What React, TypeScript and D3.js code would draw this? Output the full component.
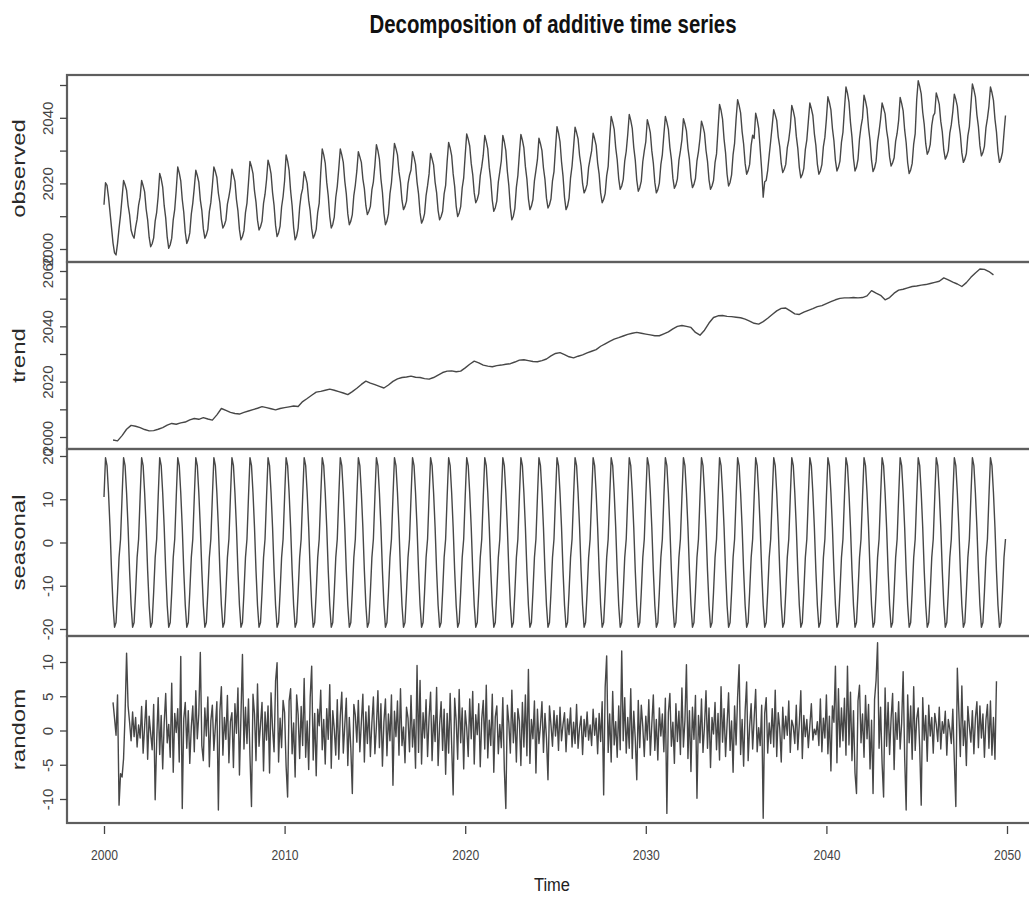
import React, { useEffect, useRef } from 'react';
import * as d3 from 'd3';

// R-style decompose() plot: four stacked panels sharing one time axis
const WIDTH = 1029;
const HEIGHT = 897;
const FONT = '"Liberation Sans", Arial, Helvetica, sans-serif';
const LINE_COLOR = '#474747';

const TITLE = 'Decomposition of additive time series';
const X_TICKS = [2000, 2010, 2020, 2030, 2040, 2050];

// observed, monthly Jan 2000 .. Dec 2049 (one row per year)
const observed = [
  2013.5, 2020.2, 2019.4, 2015.8, 2011.2, 2006.5, 2001.8, 1998.8, 1998.2, 2001.7, 2006.3, 2010.4,
  2015.6, 2020.9, 2019.6, 2017.9, 2013.4, 2010.5, 2005.8, 2004.2, 2003.3, 2006.6, 2009.1, 2013.4,
  2015.8, 2020.9, 2019.3, 2017.4, 2012.2, 2008.9, 2003.6, 2000.7, 2001.6, 2003.4, 2008.5, 2011.2,
  2016.1, 2023.0, 2021.4, 2018.9, 2013.2, 2009.5, 2003.6, 2000.2, 2001.3, 2003.3, 2008.9, 2012.1,
  2018.0, 2025.0, 2023.2, 2020.8, 2015.1, 2011.2, 2005.1, 2001.7, 2002.8, 2004.9, 2010.6, 2014.0,
  2018.7, 2024.0, 2022.4, 2020.4, 2015.0, 2011.8, 2006.2, 2003.3, 2004.3, 2006.0, 2011.4, 2014.2,
  2019.3, 2025.0, 2023.6, 2021.8, 2017.0, 2014.1, 2009.0, 2006.4, 2007.3, 2008.8, 2013.7, 2016.0,
  2018.8, 2024.3, 2022.6, 2020.6, 2015.1, 2011.6, 2005.9, 2002.8, 2003.8, 2005.6, 2011.1, 2014.0,
  2020.2, 2026.7, 2025.1, 2023.0, 2017.7, 2014.3, 2008.8, 2005.8, 2006.8, 2008.5, 2013.9, 2016.7,
  2021.1, 2027.1, 2025.4, 2022.9, 2017.2, 2013.3, 2007.2, 2003.8, 2004.9, 2007.0, 2012.8, 2016.0,
  2020.8, 2028.7, 2026.8, 2024.0, 2017.7, 2013.2, 2006.6, 2002.8, 2003.9, 2006.4, 2012.7, 2016.5,
  2018.4, 2023.6, 2022.0, 2020.0, 2014.9, 2011.6, 2006.2, 2003.3, 2004.3, 2006.0, 2011.2, 2014.0,
  2023.2, 2030.5, 2028.7, 2026.2, 2020.3, 2016.2, 2009.9, 2006.4, 2007.5, 2009.7, 2015.7, 2019.1,
  2024.5, 2030.5, 2028.7, 2026.4, 2020.7, 2016.8, 2010.7, 2007.4, 2008.5, 2010.5, 2016.3, 2019.5,
  2023.8, 2029.7, 2028.1, 2026.4, 2021.4, 2018.4, 2013.2, 2010.5, 2011.5, 2013.0, 2018.0, 2020.5,
  2025.5, 2031.8, 2030.0, 2027.4, 2021.4, 2017.3, 2010.9, 2007.4, 2008.5, 2010.7, 2016.8, 2020.2,
  2026.0, 2032.2, 2030.6, 2028.7, 2023.5, 2020.3, 2014.8, 2012.0, 2013.0, 2014.6, 2019.9, 2022.5,
  2024.1, 2029.7, 2028.0, 2025.8, 2020.4, 2016.8, 2011.0, 2007.9, 2008.9, 2010.8, 2016.3, 2019.3,
  2022.9, 2029.1, 2027.5, 2025.6, 2020.4, 2017.2, 2011.7, 2008.9, 2009.9, 2011.5, 2016.8, 2019.4,
  2026.7, 2032.5, 2030.8, 2028.5, 2022.9, 2019.1, 2013.1, 2009.9, 2011.0, 2012.9, 2018.6, 2021.7,
  2028.6, 2035.1, 2033.5, 2031.4, 2026.1, 2022.7, 2017.1, 2014.1, 2015.1, 2016.9, 2022.3, 2025.1,
  2028.6, 2034.6, 2032.8, 2030.5, 2024.8, 2020.9, 2014.8, 2011.5, 2012.6, 2014.6, 2020.4, 2023.6,
  2026.9, 2034.6, 2032.7, 2030.0, 2023.7, 2019.3, 2012.7, 2008.9, 2010.0, 2012.4, 2018.8, 2022.4,
  2029.0, 2034.9, 2033.2, 2030.8, 2025.1, 2021.3, 2015.3, 2012.0, 2013.1, 2015.1, 2020.8, 2024.0,
  2027.3, 2033.8, 2032.1, 2030.0, 2024.7, 2021.2, 2015.5, 2012.5, 2013.5, 2015.3, 2020.8, 2023.6,
  2030.7, 2037.3, 2035.4, 2032.7, 2026.6, 2022.2, 2015.7, 2012.0, 2013.1, 2015.4, 2021.7, 2025.3,
  2031.0, 2037.1, 2035.5, 2033.6, 2028.5, 2025.3, 2019.9, 2017.1, 2018.1, 2019.7, 2024.9, 2027.5,
  2029.9, 2035.3, 2033.6, 2031.6, 2026.2, 2022.8, 2017.1, 2014.1, 2015.1, 2016.9, 2022.3, 2025.2,
  2033.7, 2040.4, 2038.7, 2036.5, 2030.9, 2027.2, 2021.4, 2018.2, 2019.2, 2021.2, 2026.8, 2029.8,
  2034.9, 2041.0, 2039.2, 2036.8, 2031.0, 2027.1, 2021.0, 2017.6, 2018.7, 2020.7, 2026.6, 2029.9,
  2032.7, 2039.4, 2037.7, 2035.5, 2029.9, 2026.2, 2020.3, 2017.1, 2018.1, 2020.1, 2025.7, 2028.8,
  2034.8, 2040.4, 2038.7, 2036.5, 2031.0, 2027.4, 2021.6, 2018.5, 2019.5, 2021.4, 2027.0, 2029.9,
  2033.3, 2039.7, 2038.1, 2036.0, 2030.7, 2027.3, 2021.7, 2018.7, 2019.7, 2021.5, 2026.9, 2029.7,
  2033.7, 2039.0, 2037.4, 2035.3, 2030.1, 2026.7, 2021.1, 2018.2, 2019.2, 2020.9, 2026.3, 2029.0,
  2036.6, 2044.1, 2042.3, 2039.6, 2033.5, 2029.3, 2022.8, 2019.2, 2020.3, 2022.6, 2028.8, 2032.3,
  2039.6, 2045.5, 2043.8, 2041.5, 2035.8, 2032.0, 2026.1, 2022.8, 2023.9, 2025.8, 2031.6, 2034.7,
  2033.7, 2041.4, 2039.5, 2036.8, 2030.6, 2024.1, 2015.8, 2020.5, 2020.9, 2024.0, 2028.6, 2033.0,
  2037.6, 2042.5, 2040.9, 2039.2, 2034.2, 2031.2, 2026.0, 2023.3, 2024.3, 2025.8, 2030.8, 2033.3,
  2037.1, 2043.8, 2042.1, 2039.9, 2034.4, 2030.7, 2024.9, 2021.7, 2022.7, 2024.6, 2030.3, 2033.3,
  2038.9, 2044.5, 2042.8, 2040.7, 2035.2, 2031.6, 2025.9, 2022.8, 2023.8, 2025.7, 2031.2, 2034.1,
  2039.6, 2046.4, 2044.7, 2042.4, 2036.8, 2033.0, 2027.0, 2023.8, 2024.9, 2026.8, 2032.5, 2035.6,
  2042.7, 2049.4, 2047.5, 2044.8, 2038.6, 2034.1, 2027.6, 2023.8, 2024.9, 2027.3, 2033.6, 2037.3,
  2039.9, 2046.9, 2045.1, 2042.7, 2037.0, 2033.1, 2027.0, 2023.6, 2024.7, 2026.7, 2032.6, 2035.8,
  2039.6, 2044.5, 2042.9, 2041.2, 2036.2, 2033.2, 2028.0, 2025.3, 2026.3, 2027.8, 2032.8, 2035.3,
  2039.2, 2046.2, 2044.4, 2042.1, 2036.3, 2032.4, 2026.3, 2023.0, 2024.1, 2026.1, 2032.0, 2035.2,
  2045.5, 2051.3, 2049.6, 2047.3, 2041.7, 2038.0, 2032.1, 2028.9, 2029.9, 2031.9, 2037.6, 2040.6,
  2041.4, 2047.6, 2046.0, 2044.1, 2038.9, 2035.7, 2030.2, 2027.4, 2028.4, 2030.0, 2035.3, 2037.9,
  2041.9, 2047.2, 2045.6, 2043.5, 2038.3, 2034.9, 2029.3, 2026.4, 2027.4, 2029.1, 2034.5, 2037.2,
  2043.7, 2050.3, 2048.6, 2046.4, 2040.9, 2037.3, 2031.5, 2028.4, 2029.4, 2031.3, 2036.9, 2039.8,
  2043.5, 2049.4, 2047.7, 2045.3, 2039.6, 2035.7, 2029.7, 2026.4, 2027.5, 2029.5, 2035.3, 2040.7,
];

// trend, quarterly from mid 2000 to spring 2049
const trend = [
  1998.9, 1998.6,
  2000.5, 2002.8, 2004.2, 2003.9,
  2003.4, 2002.7, 2002.2, 2002.3,
  2002.8, 2003.4, 2004.3, 2004.9,
  2004.6, 2005.1, 2005.4, 2006.2,
  2006.7, 2006.4, 2007.0, 2006.5,
  2006.1, 2008.0, 2010.3, 2009.6,
  2008.9, 2008.5, 2008.3, 2008.9,
  2009.4, 2009.9, 2010.4, 2011.0,
  2010.6, 2010.2, 2009.8, 2010.3,
  2010.6, 2010.9, 2011.2, 2011.0,
  2012.8, 2013.9, 2015.1, 2016.2,
  2016.5, 2016.9, 2017.3, 2016.9,
  2016.4, 2015.9, 2015.3, 2016.4,
  2017.6, 2019.0, 2020.2, 2019.5,
  2018.9, 2018.3, 2017.7, 2018.8,
  2020.1, 2021.0, 2021.5, 2021.7,
  2022.0, 2021.6, 2021.5, 2021.1,
  2020.9, 2021.5, 2022.4, 2023.3,
  2023.8, 2023.9, 2023.6, 2023.8,
  2025.0, 2026.3, 2027.4, 2026.8,
  2026.0, 2025.6, 2025.4, 2025.8,
  2026.0, 2026.3, 2026.5, 2027.1,
  2027.8, 2027.9, 2027.6, 2027.3,
  2027.2, 2027.6, 2028.2, 2029.3,
  2030.2, 2030.5, 2029.8, 2029.0,
  2028.6, 2029.2, 2029.7, 2030.4,
  2031.0, 2031.6, 2032.8, 2033.7,
  2034.6, 2035.4, 2035.9, 2036.5,
  2037.1, 2037.5, 2037.8, 2037.5,
  2037.2, 2036.9, 2036.6, 2036.6,
  2037.3, 2038.0, 2039.1, 2040.0,
  2040.3, 2040.0, 2039.6, 2037.8,
  2036.8, 2038.6, 2041.2, 2043.2,
  2043.8, 2043.9, 2043.6, 2043.5,
  2043.3, 2043.1, 2042.6, 2041.9,
  2041.1, 2040.8, 2041.7, 2042.9,
  2044.3, 2045.6, 2046.5, 2046.6,
  2045.6, 2044.5, 2044.3, 2045.1,
  2045.8, 2046.4, 2047.1, 2047.5,
  2048.2, 2048.9, 2049.6, 2050.1,
  2050.3, 2050.3, 2050.4, 2050.3,
  2050.4, 2051.0, 2052.9, 2052.0,
  2051.2, 2049.6, 2050.4, 2052.0,
  2053.1, 2053.4, 2053.9, 2054.4,
  2054.6, 2054.9, 2055.1, 2055.5,
  2055.9, 2056.3, 2057.5, 2056.8,
  2056.0, 2055.3, 2054.4, 2055.8,
  2057.7, 2059.3, 2060.7, 2060.6,
  2059.8, 2058.6,
];

// one seasonal cycle Jan..Dec, the same figures every year
const seasonalCycle = [10.5, 19.6, 17.8, 11.5, 3.5, -6.5, -14.5, -19.6, -18.5, -11.5, -3.5, 0.8];

// remainder, monthly Jul 2000 .. Jun 2049
const random = [
  4.1, 1.8, -0.7, 5.2, -10.9, -6.3,
  -6.8, -4.1, 2.3, 11.3, 3.6, 1.2, -1.5, 2.7, -0.9, 1.9, -2.4, 0.8,
  -1.1, 3.5, -3.3, 0.6, 4.4, -4.2, 2.1, -0.4, -2.8, 3.8, -10.1, -1.6,
  4.8, -3.5, 2.2, -5.6, 1.1, 5.4, -1.8, 0.9, -3.9, 6.9, -6.1, 2.5,
  -0.3, 3.2, -4.6, 10.8, -11.4, 1.7, 4.1, -2.6, 2.9, -4.8, 0.5, 3.6,
  -3.1, 5.8, -1.2, 2.4, 11.4, -2.2, -4.4, 3.3, -0.8, 4.9, -5.3, 1.4,
  3.7, -2.9, 0.6, 4.2, -11.6, 2.8, 6.4, -3.6, 1.9, -1.3, 5.1, -4.7,
  1.3, 2.6, -5.4, 3.9, -0.4, 6.2, -6.5, 2.1, 11.1, -2.7, 3.4, -1.9,
  4.6, -3.8, -11.1, 5.3, 2.4, -4.4, 6.8, -2.3, 0.9, 4.1, -5.9, 2.7,
  -1.4, 3.6, -6.2, 5.5, 0.3, -3.1, 7.2, 9.9, -4.6, 1.8, -2.5, 4.4,
  2.6, -5.2, -9.7, 4.3, 6.1, -3.4, 1.1, -6.8, 5.2, 2.3, -4.1, 3.5,
  -2.2, 7.6, -3.9, 1.4, -5.7, 4.8, 9.4, -4.3, 2.5, -6.6, 3.1, 0.7,
  5.9, -2.8, 1.6, -4.9, 3.2, -1.3, 6.7, -5.5, 2.9, 0.2, -3.6, 4.5,
  -4.2, 2.1, 5.6, -3.3, 0.8, 4.7, -5.1, 1.9, -2.6, -9.2, 3.8, 2.2,
  -1.7, 4.4, -3.1, 1.2, 5.3, -4.6, 2.7, -1.9, 3.6, -3.8, 1.1, 4.9,
  -3.4, 0.6, 5.8, -2.5, 3.9, -5.2, 1.3, 4.6, -3.7, 2.4, -1.5, 5.2,
  -8.0, 2.8, -0.9, 4.3, -3.6, 6.1, -2.2, 0.5, -4.7, 3.4, 1.8, -3.1,
  5.1, -2.4, 1.6, -5.5, 9.5, -3.2, 7.3, -4.9, 2.6, -1.1, 4.5, -3.8,
  1.9, 5.6, -4.4, 2.2, -1.6, 6.3, -5.1, 0.8, 4.2, -2.9, 3.1, -6.4,
  2.5, -3.3, 5.4, -2.1, -9.4, 4.7, 1.4, -4.2, 6.0, -1.8, 3.3, -5.6,
  2.9, 0.4, -3.8, 4.6, -1.2, 5.7, -4.9, 2.3, -0.6, 3.9, -5.3, 1.7,
  4.4, -2.7, 6.6, -4.0, 1.5, -2.2, 5.3, -6.1, 2.0, 3.6, -3.4, 0.9,
  -2.5, 4.8, -5.7, -11.4, 3.7, 1.1, -3.3, 5.9, -1.8, 2.6, -4.6, 3.2,
  1.4, -5.1, 4.1, -2.4, 5.2, -3.7, 8.9, -4.8, 1.6, -1.2, 4.3, -6.2,
  3.1, -1.9, 0.7, 4.2, -3.2, 2.5, -1.1, -7.2, 3.6, 0.8, -2.3, 2.9,
  -0.8, 2.2, -2.9, 3.4, -1.5, 0.9, 2.6, -3.1, 1.7, -0.6, 3.3, -2.4,
  1.2, -1.9, 3.8, -2.6, 0.4, 2.1, -3.5, 1.6, -0.9, 2.7, -1.4, 0.8,
  -2.2, 3.1, -0.7, 1.8, -3.4, 2.5, -1.6, 4.2, -9.4, 6.3, 10.9, -3.2,
  2.4, -4.6, 5.7, -2.1, 1.3, -3.9, 3.6, -2.8, 11.6, -1.5, 4.8, -3.3,
  1.9, -2.6, 6.1, -4.1, 2.8, -1.2, -7.2, 4.4, -2.5, 3.7, 0.6, -3.8,
  2.1, -1.4, 4.5, -3.6, 0.9, 5.2, -2.9, 1.6, -4.3, 3.3, -0.8, 2.4,
  -3.1, 4.7, -12.1, 2.6, 5.4, -2.3, 1.2, -4.8, 3.9, -1.6, 2.8, -3.5,
  6.2, -2.4, 1.5, 9.6, -4.1, 2.9, -6.0, 3.4, -1.3, 5.1, -9.9, 2.2,
  -1.8, 4.6, -3.2, 0.7, 5.8, -2.6, 3.3, -5.4, 1.9, -0.5, 4.1, -2.8,
  2.5, -4.3, 6.4, -1.7, 3.2, -3.8, 0.9, 5.5, -2.9, 1.4, -6.1, 3.6,
  -2.1, 4.9, 9.6, -3.5, 1.6, -5.2, 2.8, 7.1, -4.4, 0.6, 3.9, -2.7,
  1.8, 6.0, -3.1, 0.4, -2.2, 3.7, -12.8, 2.5, 4.8, -3.3, 1.1, -1.9,
  3.2, -2.4, 5.9, -3.8, 2.6, 0.3, -4.6, 3.4, -1.2, 2.1, -0.7, 4.3,
  -3.2, 1.5, 0.6, -1.9, 3.7, -2.8, 1.0, 5.8, -4.1, 2.2, -0.9, 1.6,
  -2.5, 0.7, 3.9, -1.4, 0.2, -0.6, 1.3, -2.2, 4.6, -3.1, 1.8, -1.1,
  5.2, -3.4, 2.1, -5.9, 3.6, 1.2, 9.4, -4.7, 6.1, -2.4, 3.3, -1.5,
  4.7, -3.6, 9.4, -2.1, 5.6, -4.4, 2.9, -6.2, -9.2, 4.3, 6.6, -1.8,
  2.4, -3.9, 5.1, -1.2, 3.8, -5.6, 1.5, -9.2, 4.5, 7.3, 12.8, -2.6,
  3.4, -4.8, -9.7, 6.2, -2.3, 4.1, -3.5, 1.8, 5.4, -5.7, 2.6, -1.3,
  4.2, -2.7, 1.1, 8.6, -3.9, -11.6, 5.2, -1.8, 3.6, -4.2, 6.4, -2.9,
  1.7, 3.3, -2.6, -10.9, 4.8, -1.4, 2.2, -4.5, 3.7, -0.8, 1.9, -3.3,
  2.5, 0.9, -1.6, 3.4, -2.7, 1.3, -0.4, 2.8, -3.6, 1.6, 0.2, -1.9,
  3.1, -4.4, -11.1, 9.1, 2.7, -3.8, 6.5, -2.2, 1.4, -5.1, 3.5, 0.6,
  -1.7, 2.9, -3.4, 1.8, 4.2, -2.5, 3.6, -1.1, 2.4, -3.9, 1.5, 3.8,
  -2.6, 4.3, -3.6, 1.9, -4.2, 7.2,
];

type Pt = [number, number];

const observedPts: Pt[] = observed.map((v, i) => [2000 + i / 12, v]);
const trendPts: Pt[] = trend.map((v, i) => [2000.5 + i / 4, v]);
const seasonalPts: Pt[] = observed.map((_, i) => [2000 + i / 12, seasonalCycle[i % 12]]);
const randomPts: Pt[] = random.map((v, i) => [2000.5 + i / 12, v]);

const PANELS = [
  { name: 'observed', top: 75, data: observedPts, domain: [2000, 2050], range: [249, 85], every: 2 },
  { name: 'trend', top: 262, data: trendPts, domain: [2000, 2060], range: [437, 271], every: 2 },
  { name: 'seasonal', top: 449, data: seasonalPts, domain: [-20, 20], range: [629, 456], every: 1 },
  { name: 'random', top: 636, data: randomPts, domain: [-10, 10], range: [799, 662], every: 1 },
];
const PANEL_H = 187;
const LEFT = 67;

export default function App() {
  const svgRef = useRef<SVGSVGElement>(null);

  useEffect(() => {
    if (!svgRef.current) return;
    const svg = d3.select(svgRef.current);
    svg.selectAll('*').remove();

    const x = d3.scaleLinear().domain([2000, 2050]).range([104, 1007]);

    svg.append('text')
      .attr('x', 553).attr('y', 33)
      .attr('text-anchor', 'middle')
      .attr('textLength', 367).attr('lengthAdjust', 'spacingAndGlyphs')
      .style('font-family', FONT).style('font-size', '25px').style('font-weight', 'bold')
      .style('fill', '#111')
      .text(TITLE);

    PANELS.forEach(p => {
      const y = d3.scaleLinear().domain(p.domain).range(p.range);

      const line = d3.line<Pt>().x(d => x(d[0])).y(d => y(d[1]));
      svg.append('path')
        .datum(p.data)
        .attr('d', line)
        .attr('fill', 'none')
        .attr('stroke', LINE_COLOR)
        .attr('stroke-width', 1.4)
        .attr('stroke-linejoin', 'round');

      // box round the panel (right edge falls outside the picture)
      svg.append('rect')
        .attr('x', LEFT).attr('y', p.top)
        .attr('width', 976).attr('height', PANEL_H)
        .attr('fill', 'none')
        .attr('stroke', '#5e5e5e')
        .attr('stroke-width', 2.2);

      const ax = svg.append('g')
        .attr('transform', `translate(${LEFT},0)`)
        .call(d3.axisLeft(y)
          .ticks(p.every === 2 ? 5 : 4)
          .tickSize(7)
          .tickFormat((d, i) => (i % p.every === 0 ? String(d) : '')));
      ax.select('.domain').remove();
      ax.selectAll('line').attr('stroke', '#444').attr('stroke-width', 1.3);
      ax.selectAll('text')
        .attr('transform', 'rotate(-90)')
        .attr('x', 0).attr('y', -14).attr('dy', null)
        .attr('text-anchor', 'middle')
        .style('font-family', FONT).style('font-size', '15px')
        .attr('fill', '#444');

      svg.append('text')
        .attr('transform', `translate(25,${p.top + PANEL_H / 2}) scale(0.74,1) rotate(-90)`)
        .attr('text-anchor', 'middle')
        .style('font-family', FONT).style('font-size', '24px')
        .style('fill', '#2a2a2a')
        .text(p.name);
    });

    const xa = svg.append('g')
      .attr('transform', 'translate(0,826)')
      .call(d3.axisBottom(x).tickValues(X_TICKS).tickSize(8).tickFormat(d => String(d)));
    xa.select('.domain').remove();
    xa.selectAll('line').attr('stroke', '#444').attr('stroke-width', 1.3);
    xa.selectAll('text')
      .attr('y', 34).attr('dy', null)
      .attr('textLength', 27).attr('lengthAdjust', 'spacingAndGlyphs')
      .style('font-family', FONT).style('font-size', '15px')
      .attr('fill', '#444');

    svg.append('text')
      .attr('x', 552).attr('y', 891)
      .attr('text-anchor', 'middle')
      .attr('textLength', 36).attr('lengthAdjust', 'spacingAndGlyphs')
      .style('font-family', FONT).style('font-size', '18px')
      .style('fill', '#222')
      .text('Time');
  }, []);

  return (
    <svg
      ref={svgRef}
      width={WIDTH}
      height={HEIGHT}
      style={{ position: 'absolute', left: 0, top: 0, background: '#fff' }}
    />
  );
}
